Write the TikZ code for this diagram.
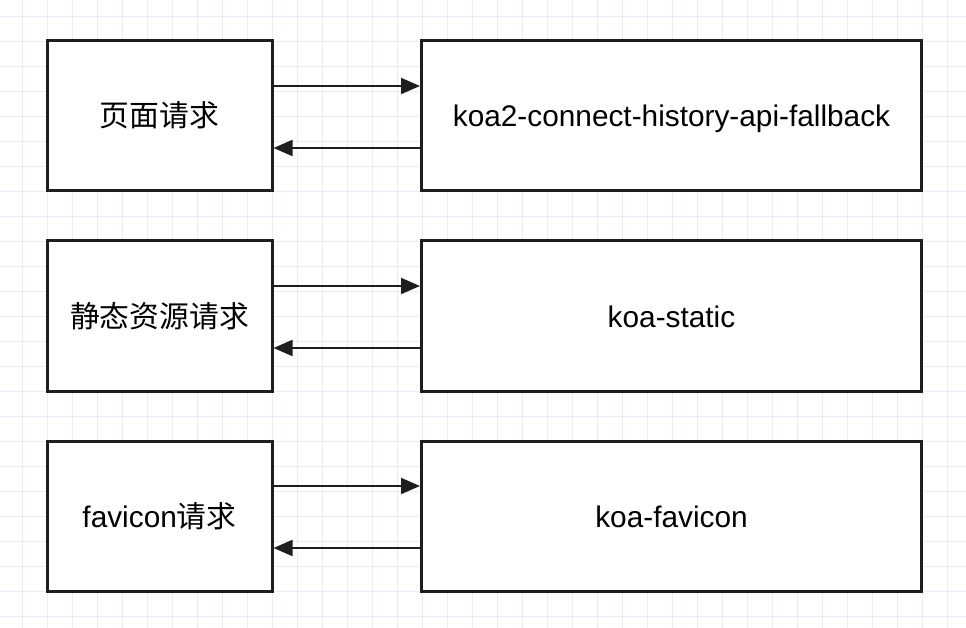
\documentclass[tikz,border=0pt]{standalone}
\usepackage{fontspec}
\setmainfont{Liberation Sans}
\newfontfamily\cjk{Noto Sans CJK SC}
\usepackage{tikz}
\usetikzlibrary{arrows.meta}

\definecolor{gridcol}{RGB}{234,234,252}
\definecolor{edgecol}{RGB}{30,30,30}

\begin{document}
\begin{tikzpicture}
    [x=1pt,y=-1pt,>={Triangle[length=19pt,width=16pt]},
     box/.style={rectangle,draw=edgecol,line width=3pt,fill=white,inner sep=0pt,
                 minimum height=150pt,text height=22pt,text depth=0pt,
                 font=\fontsize{29.8}{36}\selectfont},
     reqbox/.style={box,minimum width=225pt},
     mwbox/.style={box,minimum width=500pt},
     flow/.style={->,draw=edgecol,line width=2pt}]
    \useasboundingbox[fill=white] (0,0) rectangle (966,628);
    % background grid
    \foreach \gx in {22,47,...,947} \draw[gridcol,line width=0.9pt] (\gx,0) -- (\gx,628);
    \foreach \gy in {16,41,...,616} \draw[gridcol,line width=0.9pt] (0,\gy) -- (966,\gy);

    \node[reqbox] (page)   at (159.5,116) {\cjk 页面请求};
    \node[reqbox] (static) at (159.5,316) {\cjk 静态资源请求};
    \node[reqbox] (fav)    at (159.5,516) {favicon{\cjk 请求}};

    \node[mwbox] (history) at (671.5,116) {koa2-connect-history-api-fallback};
    \node[mwbox] (koastat) at (671.5,316) {koa-static};
    \node[mwbox] (koafav)  at (671.5,516) {koa-favicon};

    \draw[flow] ([yshift=30pt]page.east) -- ([yshift=30pt]history.west);
    \draw[flow] ([yshift=-32pt]history.west) -- ([yshift=-32pt]page.east);
    \draw[flow] ([yshift=30pt]static.east) -- ([yshift=30pt]koastat.west);
    \draw[flow] ([yshift=-32pt]koastat.west) -- ([yshift=-32pt]static.east);
    \draw[flow] ([yshift=30pt]fav.east) -- ([yshift=30pt]koafav.west);
    \draw[flow] ([yshift=-32pt]koafav.west) -- ([yshift=-32pt]fav.east);

  \end{tikzpicture}
\end{document}
